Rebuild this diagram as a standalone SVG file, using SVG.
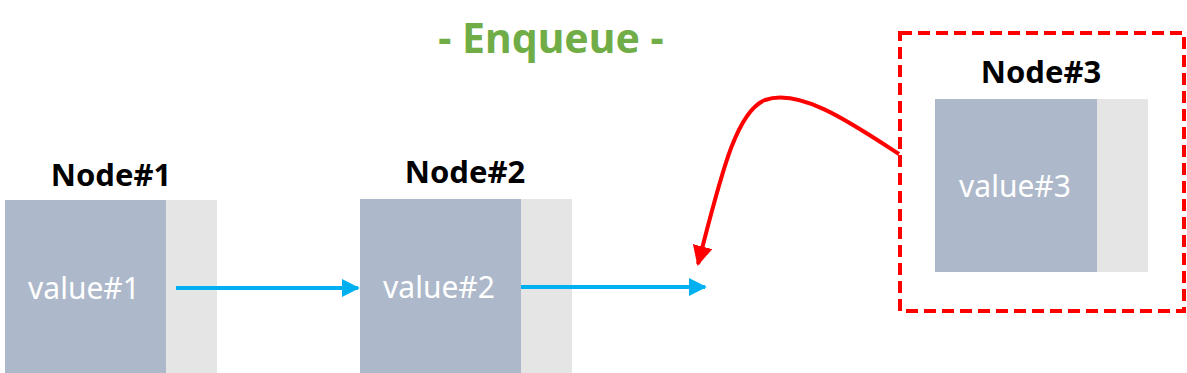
<svg xmlns="http://www.w3.org/2000/svg" width="1187" height="373" viewBox="0 0 1187 373">
<style>
.val{fill:#ADB9CA}
.ptr{fill:#E5E5E5}
.lbl{font-family:"Noto Sans","Liberation Sans",sans-serif;font-weight:bold;font-size:31px;fill:#000;text-anchor:middle}
.vtx{font-family:"Noto Sans","Liberation Sans",sans-serif;font-size:30px;fill:#fff;text-anchor:middle}
.title{font-family:"Noto Sans","Liberation Sans",sans-serif;font-weight:bold;font-size:41px;fill:#70AD47;text-anchor:middle}
</style>
<defs>
<marker id="ab" viewBox="0 0 10 10" refX="9" refY="5" markerWidth="4.5" markerHeight="4.5" orient="auto" markerUnits="strokeWidth"><path d="M0,0 L10,5 L0,10 z" fill="#00B0F0"/></marker>
<marker id="ar" viewBox="0 0 10 10" refX="9" refY="5" markerWidth="5" markerHeight="5" orient="auto" markerUnits="strokeWidth"><path d="M0,0 L10,5 L0,10 z" fill="#FF0000"/></marker>
</defs>
<rect width="1187" height="373" fill="#fff"/>
<text class="title" x="551" y="53">- Enqueue -</text>
<g id="node1">
<text class="lbl" x="111" y="186">Node#1</text>
<rect class="val" x="5" y="200" width="161" height="173"/>
<rect class="ptr" x="166" y="200" width="51" height="173"/>
<text class="vtx" x="84" y="299">value#1</text>
</g>
<g id="node2">
<text class="lbl" x="465" y="183">Node#2</text>
<rect class="val" x="360" y="199" width="161" height="174"/>
<rect class="ptr" x="521" y="199" width="51" height="174"/>
<text class="vtx" x="439" y="298">value#2</text>
</g>
<g id="node3">
<rect x="900" y="33" width="284" height="278" fill="none" stroke="#FF0000" stroke-width="4" stroke-dasharray="12 6"/>
<text class="lbl" x="1041" y="83">Node#3</text>
<rect class="val" x="935" y="99" width="162" height="173"/>
<rect class="ptr" x="1097" y="99" width="51" height="173"/>
<text class="vtx" x="1015" y="197">value#3</text>
</g>
<g id="connectors" fill="none">
<path d="M176 288 H358" stroke="#00B0F0" stroke-width="4" marker-end="url(#ab)"/>
<path d="M521 287 H705" stroke="#00B0F0" stroke-width="4" marker-end="url(#ab)"/>
<path d="M899 154 C850 122 800 88 765 100 C735 112 720 180 698 264" stroke="#FF0000" stroke-width="4" marker-end="url(#ar)"/>
</g>
</svg>
